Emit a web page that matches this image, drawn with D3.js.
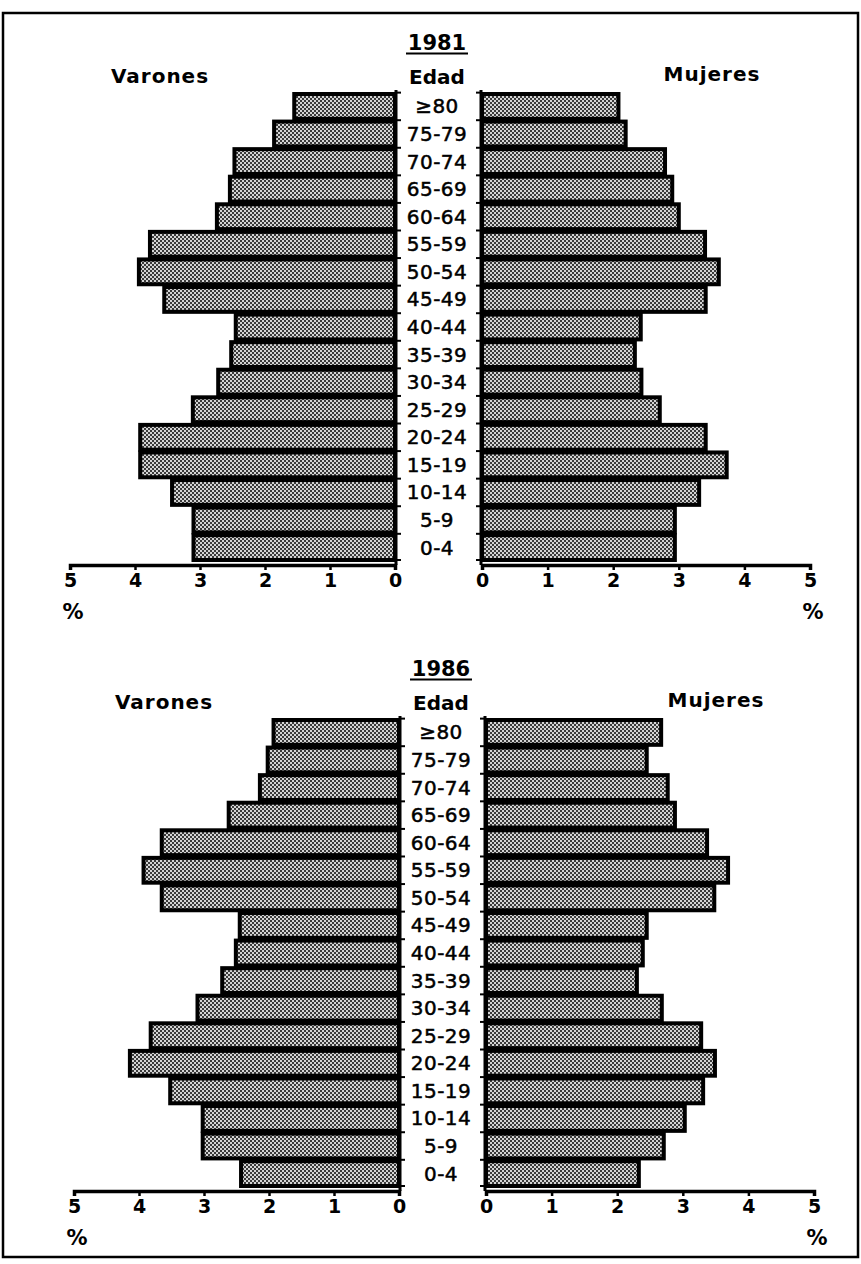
<!DOCTYPE html>
<html>
<head>
<meta charset="utf-8">
<script src="https://cdn.jsdelivr.net/npm/d3@7"></script>
<style>
  body { margin: 0; background: #fff; }
  svg { display: block; }
</style>
</head>
<body>
<div id="chart"></div>
<script>
// age groups, top row first
const ages = ["≥80", "75-79", "70-74", "65-69", "60-64", "55-59", "50-54", "45-49",
  "40-44", "35-39", "30-34", "25-29", "20-24", "15-19", "10-14", "5-9", "0-4"];

const varones1981 = [1.55, 1.86, 2.47, 2.54, 2.74, 3.77, 3.94, 3.55, 2.45, 2.52, 2.72, 3.11, 3.92, 3.92, 3.43, 3.10, 3.10];
const mujeres1981 = [2.08, 2.19, 2.79, 2.90, 3.00, 3.40, 3.61, 3.41, 2.42, 2.33, 2.43, 2.71, 3.41, 3.73, 3.31, 2.94, 2.94];

const varones1986 = [1.93, 2.02, 2.14, 2.62, 3.65, 3.93, 3.65, 2.45, 2.51, 2.72, 3.10, 3.82, 4.14, 3.52, 3.02, 3.02, 2.43];
const mujeres1986 = [2.67, 2.45, 2.77, 2.88, 3.37, 3.69, 3.48, 2.45, 2.39, 2.30, 2.68, 3.28, 3.49, 3.31, 3.03, 2.71, 2.33];

const pctTicks = [0, 1, 2, 3, 4, 5];

const W = 861, H = 1264;
const FONT = "'DejaVu Sans', Verdana, sans-serif";

const svg = d3.select("#chart").append("svg")
  .attr("width", W)
  .attr("height", H);

// dithered grey fill like the old bitmap print
const pat = svg.append("defs").append("pattern")
  .attr("id", "dither")
  .attr("width", 4).attr("height", 4)
  .attr("patternUnits", "userSpaceOnUse");
pat.append("rect").attr("width", 4).attr("height", 4).attr("fill", "#d4d4d4");
pat.append("rect").attr("width", 2).attr("height", 2).attr("fill", "#3a3a3a");
pat.append("rect").attr("x", 2).attr("y", 2).attr("width", 2).attr("height", 2).attr("fill", "#3a3a3a");

// outer frame
svg.append("rect")
  .attr("x", 3).attr("y", 13)
  .attr("width", W - 6).attr("height", H - 20)
  .attr("fill", "none")
  .attr("stroke", "#000")
  .attr("stroke-width", 2.5);

function drawPanel(opt) {
  const g = svg.append("g").attr("transform", `translate(${opt.dx},${opt.dy})`);

  const xL = d3.scaleLinear().domain([0, 5]).range([395, 70]);
  const xR = d3.scaleLinear().domain([0, 5]).range([482, 810]);
  const y = d3.scaleBand().domain(ages).range([94, 560]).paddingInner(0.1);
  const axisY = 565;
  const mid = 437;

  // headings
  g.append("text")
    .attr("x", mid).attr("y", 50)
    .attr("text-anchor", "middle")
    .style("font-family", FONT).style("font-weight", "bold").style("font-size", "21px")
    .text(opt.year);
  g.append("line")
    .attr("x1", mid - 31).attr("x2", mid + 31)
    .attr("y1", 53.5).attr("y2", 53.5)
    .attr("stroke", "#000").attr("stroke-width", 2);

  g.append("text")
    .attr("x", 160).attr("y", 83)
    .attr("text-anchor", "middle")
    .style("font-family", FONT).style("font-weight", "bold").style("font-size", "20px")
    .style("letter-spacing", "1px")
    .text("Varones");
  g.append("text")
    .attr("x", mid).attr("y", 84)
    .attr("text-anchor", "middle")
    .style("font-family", FONT).style("font-weight", "bold").style("font-size", "20px")
    .text("Edad");
  g.append("text")
    .attr("x", 712).attr("y", 81)
    .attr("text-anchor", "middle")
    .style("font-family", FONT).style("font-weight", "bold").style("font-size", "20px")
    .style("letter-spacing", "1px")
    .text("Mujeres");

  // bars
  g.append("g").selectAll("rect")
    .data(ages.map((a, i) => ({ age: a, v: opt.men[i] })))
    .join("rect")
    .attr("x", d => xL(d.v))
    .attr("y", d => y(d.age))
    .attr("width", d => xL(0) - xL(d.v))
    .attr("height", y.bandwidth())
    .attr("fill", "url(#dither)")
    .attr("stroke", "#000")
    .attr("stroke-width", 4);

  g.append("g").selectAll("rect")
    .data(ages.map((a, i) => ({ age: a, v: opt.women[i] })))
    .join("rect")
    .attr("x", xR(0))
    .attr("y", d => y(d.age))
    .attr("width", d => xR(d.v) - xR(0))
    .attr("height", y.bandwidth())
    .attr("fill", "url(#dither)")
    .attr("stroke", "#000")
    .attr("stroke-width", 4);

  // age labels
  g.append("g").selectAll("text")
    .data(ages)
    .join("text")
    .attr("x", mid)
    .attr("y", d => y(d) + y.bandwidth() / 2 + 7)
    .attr("text-anchor", "middle")
    .style("font-family", FONT).style("font-size", "20px")
    .style("letter-spacing", "0.5px")
    .attr("stroke", "#000").attr("stroke-width", 0.5)
    .text(d => d);

  // vertical zero lines with small ticks at row boundaries
  const bounds = ages.map(a => y(a) - y.step() * y.paddingInner() / 2).concat([560]);
  [[xL(0) + 1, 5], [xR(0) - 1, -5]].forEach(([x, t]) => {
    g.append("line")
      .attr("x1", x).attr("x2", x)
      .attr("y1", 90).attr("y2", axisY)
      .attr("stroke", "#000").attr("stroke-width", 3);
    g.append("g").selectAll("line")
      .data(bounds)
      .join("line")
      .attr("x1", x).attr("x2", x + t)
      .attr("y1", d => d).attr("y2", d => d)
      .attr("stroke", "#000").attr("stroke-width", 2);
  });

  // percent axes
  [xL, xR].forEach(sc => {
    const ax = g.append("g")
      .attr("transform", `translate(0,${axisY})`)
      .call(d3.axisBottom(sc).tickValues(pctTicks).tickSize(5).tickPadding(4).tickFormat(d3.format("d")));
    ax.select(".domain").attr("stroke-width", 3.5);
    ax.selectAll(".tick line").attr("stroke-width", 2.5);
    ax.selectAll(".tick text")
      .style("font-family", FONT).style("font-weight", "bold").style("font-size", "19px")
      .attr("fill", "#000");
  });

  g.append("text")
    .attr("x", xL(5) + 3).attr("y", 619)
    .attr("text-anchor", "middle")
    .style("font-family", FONT).style("font-weight", "bold").style("font-size", "21px")
    .text("%");
  g.append("text")
    .attr("x", xR(5) + 3).attr("y", 619)
    .attr("text-anchor", "middle")
    .style("font-family", FONT).style("font-weight", "bold").style("font-size", "21px")
    .text("%");
}

drawPanel({ year: "1981", men: varones1981, women: mujeres1981, dx: 0, dy: 0 });
drawPanel({ year: "1986", men: varones1986, women: mujeres1986, dx: 4, dy: 626 });
</script>
</body>
</html>
